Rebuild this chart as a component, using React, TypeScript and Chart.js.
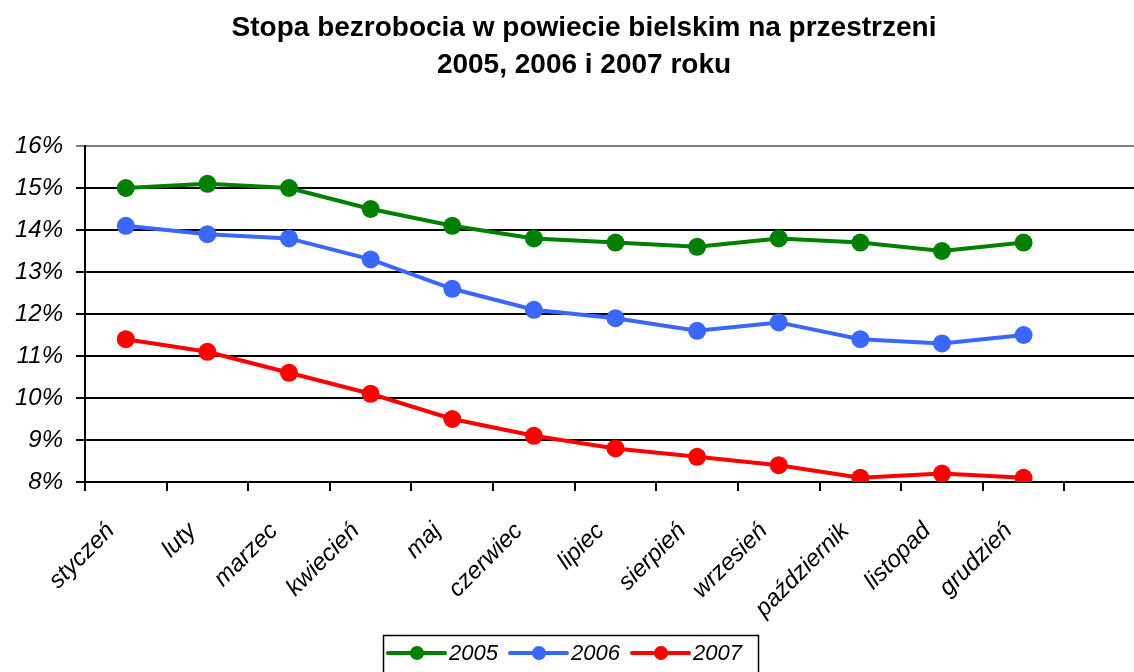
import React, { useEffect, useRef } from 'react';
import { Chart, registerables } from 'chart.js';

Chart.register(...registerables);

const months = ['styczeń', 'luty', 'marzec', 'kwiecień', 'maj', 'czerwiec', 'lipiec', 'sierpień', 'wrzesień', 'październik', 'listopad', 'grudzień', ''];
const values2005 = [15.0, 15.1, 15.0, 14.5, 14.1, 13.8, 13.7, 13.6, 13.8, 13.7, 13.5, 13.7];
const values2006 = [14.1, 13.9, 13.8, 13.3, 12.6, 12.1, 11.9, 11.6, 11.8, 11.4, 11.3, 11.5];
const values2007 = [11.4, 11.1, 10.6, 10.1, 9.5, 9.1, 8.8, 8.6, 8.4, 8.1, 8.2, 8.1];
const seriesNames = ['2005', '2006', '2007'];
const seriesColors = ['#008000', '#3A68FF', '#FF0000'];
const titleLines = ['Stopa bezrobocia w powiecie bielskim na przestrzeni', '2005, 2006 i 2007 roku'];
const yMin = 8;
const yMax = 16;

const FONT = '"Liberation Sans", Arial, sans-serif';

const titleLegendPlugin = {
  id: 'titleLegend',
  afterDraw(chart: any) {
    const ctx = chart.ctx as CanvasRenderingContext2D;
    ctx.save();
    ctx.fillStyle = '#000';
    ctx.textAlign = 'center';
    ctx.textBaseline = 'middle';
    ctx.font = `bold 28px ${FONT}`;
    ctx.fillText(titleLines[0], 584, 28);
    ctx.fillText(titleLines[1], 584, 65);

    // legend box
    ctx.strokeStyle = '#000';
    ctx.lineWidth = 1.5;
    ctx.strokeRect(383.5, 635.5, 375, 60);
    const itemX = [388, 510, 632];
    const cy = 653;
    ctx.font = `italic 22px ${FONT}`;
    ctx.textAlign = 'left';
    chart.data.datasets.forEach((ds: any, i: number) => {
      const x0 = itemX[i];
      ctx.strokeStyle = ds.borderColor;
      ctx.lineWidth = 4;
      ctx.lineCap = 'round';
      ctx.beginPath();
      ctx.moveTo(x0, cy);
      ctx.lineTo(x0 + 57, cy);
      ctx.stroke();
      ctx.fillStyle = ds.borderColor;
      ctx.beginPath();
      ctx.arc(x0 + 29, cy, 7, 0, Math.PI * 2);
      ctx.fill();
      ctx.fillStyle = '#000';
      ctx.fillText(ds.label, x0 + 61, cy + 1);
    });
    ctx.restore();
  },
};

export default function App() {
  const ref = useRef<HTMLCanvasElement | null>(null);
  useEffect(() => {
    if (!ref.current) return;
    const allSeries = [values2005, values2006, values2007];
    const chart = new Chart(ref.current, {
      type: 'line',
      data: {
        labels: months,
        datasets: allSeries.map((vals, i) => ({
          label: seriesNames[i],
          data: vals,
          borderColor: seriesColors[i],
          backgroundColor: seriesColors[i],
          pointBackgroundColor: seriesColors[i],
          pointBorderWidth: 0,
          pointRadius: 9,
          borderWidth: 4,
          tension: 0,
          fill: false,
        })),
      },
      options: {
        responsive: false,
        animation: false,
        devicePixelRatio: 1,
        layout: { padding: { top: 146, right: 22, left: 0, bottom: 0 } },
        plugins: {
          legend: { display: false },
          title: { display: false },
          tooltip: { enabled: false },
        },
        scales: {
          x: {
            offset: true,
            grid: {
              display: true,
              offset: true,
              drawOnChartArea: false,
              drawTicks: true,
              tickLength: 9,
              color: '#000',
              lineWidth: 2,
            },
            border: { display: true, color: '#000', width: 2 },
            ticks: {
              autoSkip: false,
              minRotation: 45,
              maxRotation: 45,
              color: '#000',
              padding: 26,
              labelOffset: -15,
              font: { family: FONT, size: 24, style: 'italic' },
            },
            afterFit(scale: any) {
              scale.height = 190;
            },
          },
          y: {
            min: yMin,
            max: yMax,
            grid: {
              color: (c: any) => (c.tick && c.tick.value === yMax ? '#808080' : '#000'),
              lineWidth: 2,
              tickLength: 9,
            },
            border: { display: true, color: '#000', width: 2 },
            ticks: {
              stepSize: 1,
              color: '#000',
              padding: 13,
              font: { family: FONT, size: 24, style: 'italic' },
              callback: (v: any) => `${v}%`,
            },
            afterFit(scale: any) {
              scale.width = 85;
            },
          },
        },
      },
      plugins: [titleLegendPlugin],
    });
    return () => chart.destroy();
  }, []);

  return (
    <div style={{ position: 'fixed', left: 0, top: 0, width: 1134, height: 672, overflow: 'hidden', background: '#fff' }}>
      <canvas ref={ref} width={1168} height={672} style={{ display: 'block' }} />
    </div>
  );
}
